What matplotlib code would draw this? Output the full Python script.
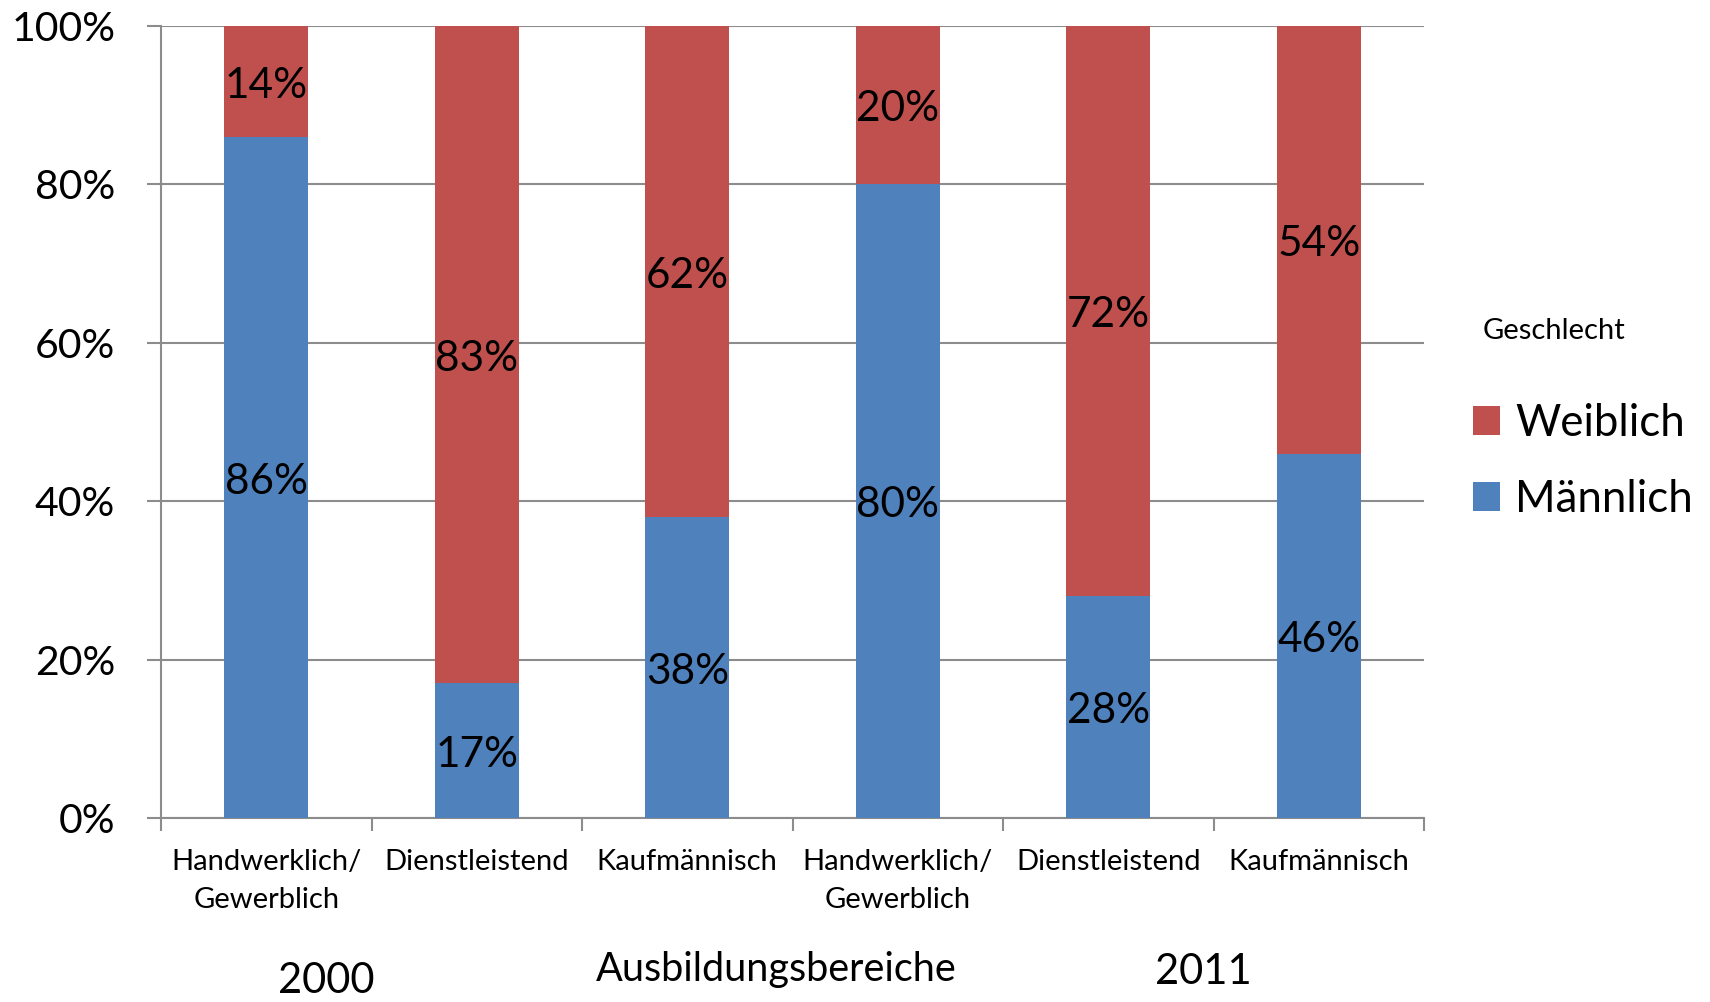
import matplotlib
matplotlib.use("Agg")
import matplotlib.pyplot as plt
from matplotlib.patches import Patch
import numpy as np

plt.rcParams['font.family'] = ['Lato', 'DejaVu Sans']

categories = ["Handwerklich/\nGewerblich", "Dienstleistend", "Kaufmännisch",
              "Handwerklich/\nGewerblich", "Dienstleistend", "Kaufmännisch"]
maennlich = [86, 17, 38, 80, 28, 46]
weiblich = [14, 83, 62, 20, 72, 54]
years = ["2000", "2011"]
yticks = [0, 20, 40, 60, 80, 100]
ytick_labels = ["0%", "20%", "40%", "60%", "80%", "100%"]

BLUE = "#4F81BD"
RED = "#C0504D"
GRID = "#8C8C8C"

W, H = 1710, 1002
fig = plt.figure(figsize=(W / 100, H / 100), dpi=100)
ax = fig.add_axes([161 / W, 1 - 818 / H, (1424 - 161) / W, (818 - 26) / H])

x = np.arange(len(categories))
bw = 0.4
ax.bar(x, maennlich, width=bw, color=BLUE, zorder=3)
ax.bar(x, weiblich, width=bw, bottom=maennlich, color=RED, zorder=3)

for i in range(len(categories)):
    ax.annotate(f"{maennlich[i]}%", (x[i], maennlich[i] / 2), xytext=(0, -3),
                textcoords='offset points', ha='center', va='center',
                fontsize=30.5, color='black', zorder=4)
    ax.annotate(f"{weiblich[i]}%", (x[i], maennlich[i] + weiblich[i] / 2), xytext=(0, -3),
                textcoords='offset points', ha='center', va='center',
                fontsize=30.5, color='black', zorder=4)

ax.set_xlim(-0.5, len(categories) - 0.5)
ax.set_ylim(0, 100)
ax.set_yticks(yticks)
ax.set_yticklabels(ytick_labels, fontsize=29.5)
ax.yaxis.grid(True, color=GRID, linewidth=1.5, zorder=0)
ax.set_xticks(x)
ax.set_xticklabels(categories, fontsize=21, linespacing=1.6)
ax.set_xticks(np.arange(-0.5, len(categories)), minor=True)
ax.tick_params(axis='x', which='major', length=0, pad=22)
ax.tick_params(axis='x', which='minor', length=9, width=1.5, color=GRID)
ax.tick_params(axis='y', which='major', length=10, width=1.5, color=GRID, pad=23)

for s in ['top', 'right']:
    ax.spines[s].set_visible(False)
for s in ['left', 'bottom']:
    ax.spines[s].set_color(GRID)
    ax.spines[s].set_linewidth(1.5)

fig.text(776 / W, 1 - 969 / H, "Ausbildungsbereiche", ha='center', va='center', fontsize=28.5)
fig.text(326 / W, 1 - 993 / H, years[0], ha='center', va='baseline', fontsize=30)
fig.text(1203 / W, 1 - 972 / H, years[1], ha='center', va='center', fontsize=30)

fig.text(1554 / W, 1 - 331 / H, "Geschlecht", ha='center', va='center', fontsize=21)
handles = [Patch(facecolor=RED, edgecolor='none', label="Weiblich"),
           Patch(facecolor=BLUE, edgecolor='none', label="Männlich")]
fig.legend(handles=handles, loc='upper left', bbox_to_anchor=(1473 / W, 1 - 403 / H),
           frameon=False, fontsize=31.5, handlelength=0.62, handleheight=0.62,
           handletextpad=0.35, labelspacing=0.8, borderpad=0, borderaxespad=0)

fig.savefig("out.png", dpi=100)
